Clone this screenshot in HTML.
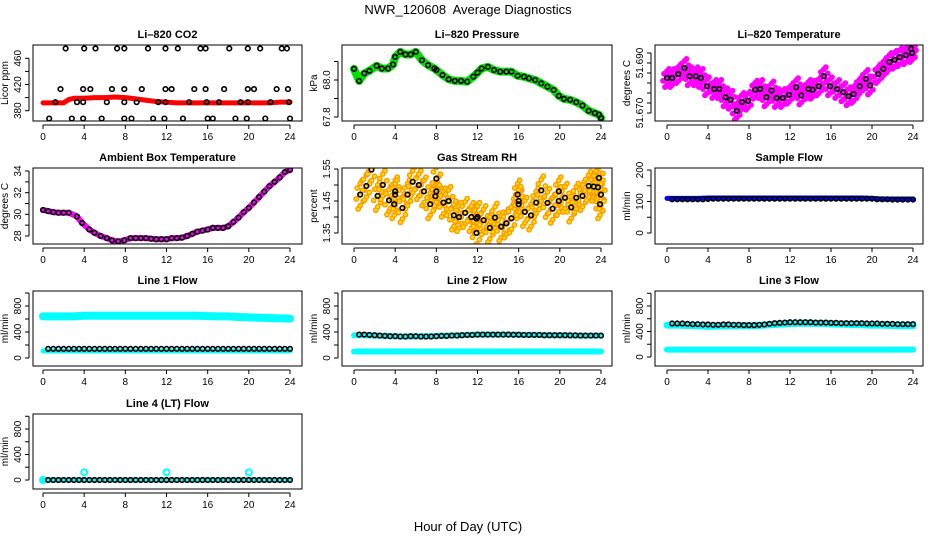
<!DOCTYPE html>
<html><head><meta charset="utf-8"><style>
html,body{margin:0;padding:0;background:#fff}
svg{display:block;font-family:"Liberation Sans",Arial,sans-serif}
</style></head><body>
<svg id="chart" width="936" height="540" viewBox="0 0 936 540">
<text x="468" y="14" text-anchor="middle" font-size="13">NWR_120608&#160; Average Diagnostics</text>
<text x="468" y="531" text-anchor="middle" font-size="13">Hour of Day (UTC)</text>
</svg>
<script>
// ---------- data ----------
const xTicks = [0,4,8,12,16,20,24];
const halfHours = [0.5,1,1.5,2,2.5,3,3.5,4,4.5,5,5.5,6,6.5,7,7.5,8,8.5,9,9.5,10,10.5,11,11.5,12,12.5,13,13.5,14,14.5,15,15.5,16,16.5,17,17.5,18,18.5,19,19.5,20,20.5,21,21.5,22,22.5,23,23.5,24];
const hours = [0,1,2,3,4,5,6,7,8,9,10,11,12,13,14,15,16,17,18,19,20,21,22,23,24];

// CO2
const co2BandHours = [0,1,2,2.5,3,4,5,6,7,8,9,10,11,12,13,14,15,16,17,18,19,20,21,22,23,24];
const co2Band = [392,392,392,397,399,399,400,400,401,400,398,396,394,393,392,392,392,392,392,392,392,392,392,392,393,393];
const co2X = [2.2,4.0,5.1,7.2,7.9,10.2,11.9,13.1,15.3,15.8,18.1,19.9,21.1,23.2,23.7,
 1.7,3.9,4.6,6.7,7.9,9.6,11.9,12.5,14.7,15.8,17.6,19.9,20.5,22.7,23.8,
 1.2,3.3,3.9,6.2,7.9,9.1,11.2,11.9,14.2,15.9,17.1,19.2,19.9,22.1,23.9,
 0.6,2.8,3.9,5.7,7.9,8.6,10.7,11.8,13.6,16.0,16.5,18.7,19.8,21.6,24.0];
const co2Y = [475,475,475,475,475,475,475,475,475,475,475,475,475,475,475,
 413,413,413,413,413,413,413,413,413,413,413,413,413,413,413,
 393,393,393,393,393,393,393,393,393,393,393,393,393,393,393,
 368,368,368,368,368,368,368,368,368,368,368,368,368,368,368];

// Pressure
const presX = [0,0.5,1,1.5,2.2,2.7,3.3,3.8,4.0,4.5,5,5.5,6,6.6,7.2,7.8,8,8.6,9.2,9.8,10.4,11,11.6,12,12.4,13,13.6,14.2,14.8,15.3,15.9,16.5,17,17.6,18.2,18.8,19.4,19.9,20.4,21,21.6,22.2,22.8,23.4,23.8,24];
const presY = [68.06,67.995,68.036,68.05,68.077,68.062,68.062,68.084,68.125,68.152,68.138,68.138,68.152,68.107,68.08,68.062,68.054,68.027,68.004,67.995,67.995,67.991,68.018,68.04,68.062,68.071,68.054,68.045,68.045,68.045,68.023,68.018,68.009,68.0,67.982,67.964,67.946,67.914,67.898,67.893,67.88,67.862,67.834,67.821,67.812,67.795];

// Li-820 temperature
const tempX = [0,0.5,1.1,1.7,2.2,2.8,3.3,3.9,4.6,5.1,5.7,6.2,6.8,7.3,7.9,8.6,9.1,9.7,10.2,10.7,11.3,11.9,12.6,13.1,13.8,14.2,14.8,15.3,15.9,16.6,17.2,17.7,18.2,18.8,19.4,19.8,20.6,21.1,21.7,22.2,22.7,23.3,23.8,23.9];
const tempY = [51.684,51.684,51.6856,51.688,51.6847,51.6847,51.684,51.6807,51.6796,51.6796,51.6763,51.6753,51.6709,51.6744,51.6749,51.6793,51.6796,51.6763,51.679,51.676,51.676,51.6773,51.6803,51.677,51.6796,51.6793,51.6807,51.6847,51.6807,51.6796,51.6783,51.6767,51.6776,51.6807,51.6836,51.681,51.6856,51.6877,51.6904,51.6913,51.6923,51.6931,51.6957,51.694];

// Ambient
const ambX = [0,0.5,1,1.5,2,2.5,3.3,3.8,4.5,5,5.6,6.2,6.7,7.3,7.9,8.5,9,9.5,10,10.5,11,11.5,12,12.5,13,13.5,14,14.5,15,15.5,16,16.5,17,17.5,18,18.5,19,19.5,20,20.5,21,21.5,22,22.5,23,23.5,24];
const ambY = [30.4,30.3,30.2,30.15,30.15,30.15,29.8,29.2,28.6,28.3,28.0,27.8,27.6,27.5,27.6,27.8,27.8,27.8,27.8,27.75,27.7,27.7,27.7,27.8,27.8,27.85,28.0,28.2,28.4,28.5,28.6,28.75,28.75,28.75,28.9,29.3,29.7,30.2,30.6,31.1,31.6,32.1,32.6,33.0,33.4,33.9,34.1];

// Gas stream RH
const rhX = [0.6,1.2,1.7,2.3,2.8,3.4,3.9,4.0,4.0,4.7,5.2,5.7,6.3,6.8,7.4,7.9,8.0,8.0,8.7,9.2,9.7,10.2,10.8,11.4,11.9,12.0,11.9,12.6,13.2,13.7,14.3,14.8,15.3,15.9,16.0,16.0,16.6,17.2,17.7,18.2,18.8,19.3,19.9,19.9,20.5,21.1,21.6,22.2,22.8,23.3,23.7,23.8,23.9,24.0];
const rhY = [1.47,1.497,1.548,1.466,1.5,1.452,1.44,1.48,1.47,1.428,1.47,1.51,1.5,1.48,1.44,1.465,1.48,1.52,1.445,1.45,1.405,1.4,1.413,1.4,1.395,1.40,1.35,1.39,1.366,1.398,1.37,1.38,1.396,1.47,1.44,1.45,1.416,1.405,1.445,1.483,1.444,1.426,1.48,1.45,1.46,1.43,1.46,1.466,1.497,1.495,1.493,1.522,1.44,1.47];

// Flows (mL/min)
const sampleBlue = [110,110,110,110,111,111,111,111,111,111,111,111,111,111,111,111,111,111,111,111,110,108,108,108,108];
const sampleBlack = [107,107,107,107,107,107,107,108,109,109,109,109,109,109,109,109,109,109,109,109,109,109,109,109,109,109,109,109,109,109,109,109,109,109,109,109,109,109,109,109,107,107,107,106,106,106,106,106];
const line1CyanHigh = [640,640,640,640,650,650,650,650,650,650,650,650,650,650,650,650,645,640,640,630,625,620,615,610,605];
const line1CyanLow = [110,110,110,110,110,110,110,110,110,110,110,110,110,110,110,110,110,110,110,110,110,110,110,110,110];
const line1Black = [140,140,140,140,140,140,140,140,140,140,140,140,140,140,140,140,140,140,140,140,140,140,140,140,140,140,140,140,140,140,140,140,140,140,140,140,140,140,140,140,140,140,140,140,140,140,140,140];
const line2CyanHigh = [350,350,345,340,335,330,330,335,340,345,350,355,360,360,360,360,358,355,355,350,350,348,345,345,345];
const line2CyanLow = [100,100,100,100,100,100,100,100,100,100,100,100,100,100,100,100,100,100,100,100,100,100,100,100,100];
const line2Black = [360,360,355,350,345,340,335,335,330,330,335,335,330,330,330,335,340,340,345,345,350,355,355,360,360,360,360,360,360,360,358,358,355,355,355,355,350,350,350,350,350,348,348,345,345,345,345,345];
const line3CyanHigh = [500,500,495,490,480,485,490,490,490,495,505,515,525,530,530,525,520,515,510,505,500,500,495,490,490];
const line3CyanLow = [115,115,115,115,115,115,115,115,115,115,115,115,115,115,115,115,115,115,115,115,115,115,115,115,115];
const line3Black = [525,525,525,520,515,515,510,510,505,505,510,510,505,505,500,500,500,505,510,520,530,535,540,545,545,545,545,545,540,540,540,535,535,530,530,530,530,530,525,525,525,520,520,520,515,515,515,515];
const line4Cyan = [0,0,0,0,0,0,0,0,0,0,0,0,0,0,0,0,0,0,0,0,0,0,0,0,0];
const line4OutX = [0,4,12,20];
const line4OutY = [0,120,120,120];
const line4Black = [0,0,0,0,0,0,0,0,0,0,0,0,0,0,0,0,0,0,0,0,0,0,0,0,0,0,0,0,0,0,0,0,0,0,0,0,0,0,0,0,0,0,0,0,0,0,0,0];

// ---------- drawing ----------
const NS = "http://www.w3.org/2000/svg";
const svg = document.getElementById("chart");
const cols = [{bl:33,br:302,x0:43,x24:290},{bl:342,br:612,x0:354,x24:601},{bl:655,br:923,x0:667,x24:913}];
const rows = [{t:45,b:121},{t:168,b:244},{t:291,b:366},{t:414,b:489}];
function mk(tag, attrs, parent){const e=document.createElementNS(NS,tag);for(const k in attrs)e.setAttribute(k,attrs[k]);(parent||svg).appendChild(e);return e;}

function panel(o){
  const c=cols[o.col], r=rows[o.row];
  const g=mk("g",{});
  
  
  const sx=h=>c.x0+h*(c.x24-c.x0)/24;
  const sy=v=>o.p1+(v-o.v1)*(o.p2-o.p1)/(o.v2-o.v1);
  const clipId="clip-"+o.name;
  const cp=mk("clipPath",{id:clipId},g);
  mk("rect",{x:c.bl,y:r.t,width:c.br-c.bl,height:r.b-r.t},cp);
  const plot=mk("g",{"clip-path":"url(#"+clipId+")"},g);
  
  
  o.draw(plot,sx,sy);
  const box=mk("rect",{x:c.bl,y:r.t,width:c.br-c.bl,height:r.b-r.t,fill:"none",stroke:"#000","stroke-width":1},g);
  
  
  const tt=mk("text",{x:(c.bl+c.br)/2,y:r.t-7,"text-anchor":"middle","font-size":11,"font-weight":"bold"},g);
  tt.textContent=o.title;
  
  
  const xa=mk("g",{},g);
  
  
  mk("line",{x1:sx(xTicks[0]),x2:sx(xTicks[xTicks.length-1]),y1:r.b+4,y2:r.b+4,stroke:"#000"},xa);
  xTicks.forEach(t=>{
    mk("line",{x1:sx(t),x2:sx(t),y1:r.b+4,y2:r.b+8,stroke:"#000"},xa);
    const l=mk("text",{x:sx(t),y:r.b+19,"text-anchor":"middle","font-size":10},xa);
    l.textContent=t;
  });
  const ya=mk("g",{},g);
  
  
  const ax=c.bl-4;
  const tp=o.yticks.map(sy);
  mk("line",{x1:ax,x2:ax,y1:Math.min(...tp),y2:Math.max(...tp),stroke:"#000"},ya);
  o.yticks.forEach(t=>mk("line",{x1:ax,x2:ax-4,y1:sy(t),y2:sy(t),stroke:"#000"},ya));
  o.ylabels.forEach((t,i)=>{
    const y=sy(t), x=ax-8;
    const l=mk("text",{x:x,y:y,"text-anchor":"middle","font-size":10,transform:`rotate(-90 ${x} ${y})`},ya);
    l.textContent=o.ytext?o.ytext[i]:t;
  });
  const yl=mk("text",{x:c.bl-25,y:(r.t+r.b)/2,"text-anchor":"middle","font-size":10,transform:`rotate(-90 ${c.bl-25} ${(r.t+r.b)/2})`},g);
  yl.textContent=o.ylab;
  
  
}
function pts(parent,xs,ys,sx,sy,color,name,r,sw){
  xs.forEach((x,i)=>{
    const e=mk("circle",{cx:sx(x),cy:sy(ys[i]),r:r||2.3,fill:"none",stroke:color,"stroke-width":sw||1.6},parent);
    
    
  });
}
function band(parent,xs,ys,sx,sy,color,w,name){
  const e=mk("polyline",{points:xs.map((x,i)=>sx(x)+","+sy(ys[i])).join(" "),fill:"none",stroke:color,"stroke-width":w,"stroke-linejoin":"round","stroke-linecap":"round"},parent);
  
  
}
const spread=[[0,0],[-3,-6],[3,6],[-4,4],[4,-4],[0,10],[0,-10],[2,-13],[-2,13]];
function cloud(parent,xs,ys,sx,sy,color,fill,scale,name){
  xs.forEach((x,i)=>spread.forEach(s=>{
    const e=mk("circle",{cx:sx(x)+s[0],cy:sy(ys[i])+s[1]*scale,r:2.2,fill:fill,stroke:color,"stroke-width":1.4},parent);
    
    
  }));
}
const flowTicks=[0,200,400,600,800,1000], flowLabels=[0,400,800];

panel({name:"co2-panel",col:0,row:0,title:"Li\u2013820 CO2",ylab:"Licor ppm",v1:460,p1:58.3,v2:380,p2:110.7,
  yticks:[380,400,420,440,460],ylabels:[380,420,460],
  draw:(p,sx,sy)=>{band(p,co2BandHours,co2Band,sx,sy,"#ff0000",5,"co2-red-band");pts(p,co2X,co2Y,sx,sy,"#000","co2-point");}});
panel({name:"pressure-panel",col:1,row:0,title:"Li\u2013820 Pressure",ylab:"kPa",v1:68.0,p1:80,v2:67.8,p2:117,
  yticks:[67.8,67.9,68.0,68.1],ylabels:[67.8,68.0],ytext:["67.8","68.0"],
  draw:(p,sx,sy)=>{band(p,presX,presY,sx,sy,"#00e000",8,"pressure-green-band");pts(p,presX,presY,sx,sy,"#000","pressure-point");}});
panel({name:"temperature-panel",col:2,row:0,title:"Li\u2013820 Temperature",ylab:"degrees C",v1:51.690,p1:63,v2:51.670,p2:113,
  yticks:[51.670,51.674,51.678,51.682,51.686,51.690,51.694],ylabels:[51.670,51.690],ytext:["51.670","51.690"],
  draw:(p,sx,sy)=>{cloud(p,tempX,tempY,sx,sy,"#ff00ff","#ff00ff",0.7,"temperature-magenta-point");pts(p,tempX,tempY,sx,sy,"#000","temperature-point");}});
panel({name:"ambient-panel",col:0,row:1,title:"Ambient Box Temperature",ylab:"degrees C",v1:34,p1:171,v2:28,p2:236,
  yticks:[28,29,30,31,32,33,34],ylabels:[28,30,32,34],
  draw:(p,sx,sy)=>{band(p,ambX,ambY,sx,sy,"#ff00ff",6,"ambient-magenta-band");pts(p,ambX,ambY,sx,sy,"#000","ambient-point");}});
panel({name:"rh-panel",col:1,row:1,title:"Gas Stream RH",ylab:"percent",v1:1.55,p1:169,v2:1.35,p2:233,
  yticks:[1.35,1.40,1.45,1.50,1.55],ylabels:[1.35,1.45,1.55],ytext:["1.35","1.45","1.55"],
  draw:(p,sx,sy)=>{cloud(p,rhX,rhY,sx,sy,"#ff9900","#ffe000",1.1,"rh-orange-point");pts(p,rhX,rhY,sx,sy,"#000","rh-point");}});
panel({name:"sample-flow-panel",col:2,row:1,title:"Sample Flow",ylab:"ml/min",v1:200,p1:170,v2:0,p2:233,
  yticks:[0,50,100,150,200],ylabels:[0,100,200],
  draw:(p,sx,sy)=>{band(p,hours,sampleBlue,sx,sy,"#0000ff",5,"sample-blue-band");pts(p,halfHours,sampleBlack,sx,sy,"#000","sample-point");}});
panel({name:"line1-flow-panel",col:0,row:2,title:"Line 1 Flow",ylab:"ml/min",v1:0,p1:358,v2:800,p2:306,
  yticks:flowTicks,ylabels:flowLabels,
  draw:(p,sx,sy)=>{band(p,hours,line1CyanHigh,sx,sy,"#00ffff",8,"line1-cyan-high");band(p,hours,line1CyanLow,sx,sy,"#00ffff",5,"line1-cyan-low");pts(p,halfHours,line1Black,sx,sy,"#000","line1-point");}});
panel({name:"line2-flow-panel",col:1,row:2,title:"Line 2 Flow",ylab:"ml/min",v1:0,p1:358,v2:800,p2:306,
  yticks:flowTicks,ylabels:flowLabels,
  draw:(p,sx,sy)=>{band(p,hours,line2CyanHigh,sx,sy,"#00ffff",6,"line2-cyan-high");band(p,hours,line2CyanLow,sx,sy,"#00ffff",6,"line2-cyan-low");pts(p,halfHours,line2Black,sx,sy,"#000","line2-point");}});
panel({name:"line3-flow-panel",col:2,row:2,title:"Line 3 Flow",ylab:"ml/min",v1:0,p1:357,v2:800,p2:306,
  yticks:flowTicks,ylabels:flowLabels,
  draw:(p,sx,sy)=>{band(p,hours,line3CyanHigh,sx,sy,"#00ffff",7,"line3-cyan-high");band(p,hours,line3CyanLow,sx,sy,"#00ffff",6,"line3-cyan-low");pts(p,halfHours,line3Black,sx,sy,"#000","line3-point");}});
panel({name:"line4-flow-panel",col:0,row:3,title:"Line 4 (LT) Flow",ylab:"ml/min",v1:0,p1:480,v2:800,p2:429,
  yticks:flowTicks,ylabels:flowLabels,
  draw:(p,sx,sy)=>{band(p,hours,line4Cyan,sx,sy,"#00ffff",5,"line4-cyan-band");pts(p,line4OutX,line4OutY,sx,sy,"#00ffff","line4-cyan-outlier",3,2);pts(p,halfHours,line4Black,sx,sy,"#000","line4-point");}});
</script>
</body></html>
